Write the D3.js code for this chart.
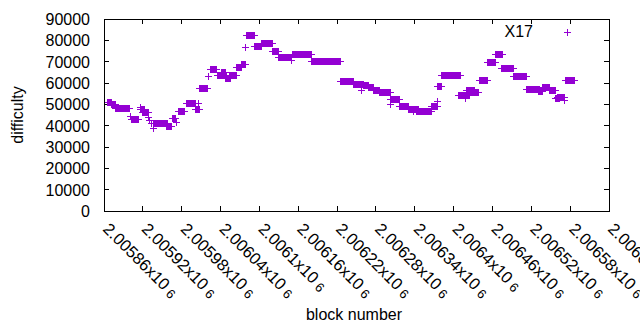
<!DOCTYPE html>
<html>
<head>
<meta charset="utf-8">
<script src="https://cdn.jsdelivr.net/npm/d3@7"></script>
<style>
  body { margin: 0; background: #fff; }
  svg text { font-family: "Liberation Sans", Arial, sans-serif; font-size: 16px; fill: #000; }
</style>
</head>
<body>
<svg width="640" height="330"></svg>
<script>
// runs of blocks with the same difficulty (first block, last block, difficulty)
var runStart = [2005865, 2005871, 2005877, 2005901, 2005903, 2005916, 2005917, 2005920, 2005928, 2005931,
                2005934, 2005937, 2005936, 2005956, 2005966, 2005972, 2005975, 2005987, 2006002, 2006006,
                2006008, 2006022, 2006024, 2006035, 2006042, 2006048, 2006054, 2006065, 2006073, 2006079,
                2006080, 2006093, 2006104, 2006120, 2006130, 2006150, 2006151, 2006180, 2006225, 2006246,
                2006258, 2006261, 2006268, 2006276, 2006286, 2006302, 2006302, 2006317, 2006331, 2006338,
                2006343, 2006366, 2006375, 2006375, 2006381, 2006407, 2006418, 2006420, 2006425, 2006440,
                2006453, 2006465, 2006474, 2006492, 2006512, 2006531, 2006538, 2006548, 2006558, 2006561,
                2006572, 2006573];
var runEnd   = [2005871, 2005877, 2005900, 2005901, 2005914, 2005922, 2005917, 2005928, 2005928, 2005931,
                2005934, 2005937, 2005958, 2005964, 2005971, 2005972, 2005985, 2006002, 2006007, 2006006,
                2006020, 2006022, 2006034, 2006049, 2006048, 2006055, 2006065, 2006073, 2006079, 2006079,
                2006093, 2006104, 2006121, 2006130, 2006150, 2006150, 2006181, 2006225, 2006246, 2006261,
                2006258, 2006268, 2006277, 2006286, 2006302, 2006317, 2006302, 2006331, 2006345, 2006338,
                2006366, 2006375, 2006375, 2006381, 2006410, 2006425, 2006418, 2006432, 2006438, 2006452,
                2006464, 2006476, 2006493, 2006512, 2006533, 2006538, 2006548, 2006558, 2006564, 2006572,
                2006572, 2006586];
var runDiff  = [50700, 50000, 48100, 44200, 43000, 47500, 48300, 46000, 43900, 42300,
                40800, 38500, 41000, 39400, 43300, 41600, 46700, 50500, 47400, 50600,
                57500, 63100, 66400, 63600, 65000, 62000, 63600, 67500, 68600, 76700,
                82400, 77000, 78600, 74700, 72000, 70500, 73500, 70200, 60800, 59200,
                56700, 58600, 58000, 56700, 55600, 52400, 50000, 49000, 47500, 46500,
                46600, 49200, 51100, 58400, 63300, 54200, 52800, 56700, 55600, 61400,
                69800, 73400, 66900, 63000, 56900, 56100, 57800, 56700, 52600, 53400,
                51600, 61400];

var xTicks = [2005860, 2005920, 2005980, 2006040, 2006100, 2006160, 2006220,
              2006280, 2006340, 2006400, 2006460, 2006520, 2006580, 2006640];
var yTicks = [0, 10000, 20000, 30000, 40000, 50000, 60000, 70000, 80000, 90000];
var seriesName = 'X17';

(function() {
  var svg = d3.select('svg'),
      pl = 104, pr = 609, pt = 19, pb = 211,
      purple = '#9400d3';

  var x = d3.scaleLinear().domain([2005860, 2006640]).range([pl, pr]),
      y = d3.scaleLinear().domain([0, 90000]).range([pb, pt]);

  // one point per block
  var points = [];
  runStart.forEach(function(s, i) {
    d3.range(s, runEnd[i] + 1).forEach(function(b) {
      points.push({ block: b, diff: runDiff[i] });
    });
  });

  var plus = 'M-3.5,0H3.5M0,-3.5V3.5';

  // ticks (inside, mirrored)
  var g = svg.append('g').attr('stroke', '#000').attr('stroke-width', 1).attr('shape-rendering', 'crispEdges');
  yTicks.forEach(function(v) {
    g.append('line').attr('x1', pl).attr('x2', pl + 5).attr('y1', y(v)).attr('y2', y(v));
    g.append('line').attr('x1', pr).attr('x2', pr - 5).attr('y1', y(v)).attr('y2', y(v));
  });
  xTicks.forEach(function(v) {
    g.append('line').attr('x1', x(v)).attr('x2', x(v)).attr('y1', pb).attr('y2', pb - 5);
    g.append('line').attr('x1', x(v)).attr('x2', x(v)).attr('y1', pt).attr('y2', pt + 5);
  });

  // y tick labels
  svg.selectAll('.ylab')
    .data(yTicks)
    .enter()
    .append('text')
    .attr('class', 'ylab')
    .attr('x', 90)
    .attr('y', function(d) { return y(d) + 6; })
    .attr('text-anchor', 'end')
    .text(function(d) { return d; });

  // x tick labels, rotated
  var xl = svg.selectAll('.xlab')
    .data(xTicks)
    .enter()
    .append('text')
    .attr('class', 'xlab')
    .style('font-size', '16.5px')
    .attr('transform', function(d) { return 'translate(' + (x(d) - 2) + ',230) rotate(45)'; });
  xl.append('tspan').text(function(d) { return String(+(d / 1e6).toFixed(5)) + 'x10'; });
  xl.append('tspan').attr('dx', 4).attr('dy', 1).style('font-size', '13px').text('6');

  // points
  svg.append('g')
    .selectAll('path')
    .data(points)
    .enter()
    .append('path')
    .attr('d', plus)
    .attr('transform', function(d) { return 'translate(' + x(d.block) + ',' + y(d.diff) + ')'; })
    .attr('stroke', purple)
    .attr('stroke-width', 1)
    .attr('fill', 'none')
    .attr('shape-rendering', 'crispEdges');

  // border
  svg.append('rect')
    .attr('x', pl).attr('y', pt)
    .attr('width', pr - pl).attr('height', pb - pt)
    .attr('fill', 'none').attr('stroke', '#000').attr('stroke-width', 1)
    .attr('shape-rendering', 'crispEdges');

  // legend
  svg.append('text').attr('x', 533).attr('y', 37).attr('text-anchor', 'end').text(seriesName);
  svg.append('path').attr('d', plus).attr('transform', 'translate(567,32)')
    .attr('stroke', purple).attr('fill', 'none').attr('shape-rendering', 'crispEdges');

  // axis titles
  svg.append('text').attr('transform', 'translate(23,115) rotate(-90)').attr('text-anchor', 'middle').text('difficulty');
  svg.append('text').attr('x', 354).attr('y', 320).attr('text-anchor', 'middle').text('block number');
})();
</script>
</body>
</html>
